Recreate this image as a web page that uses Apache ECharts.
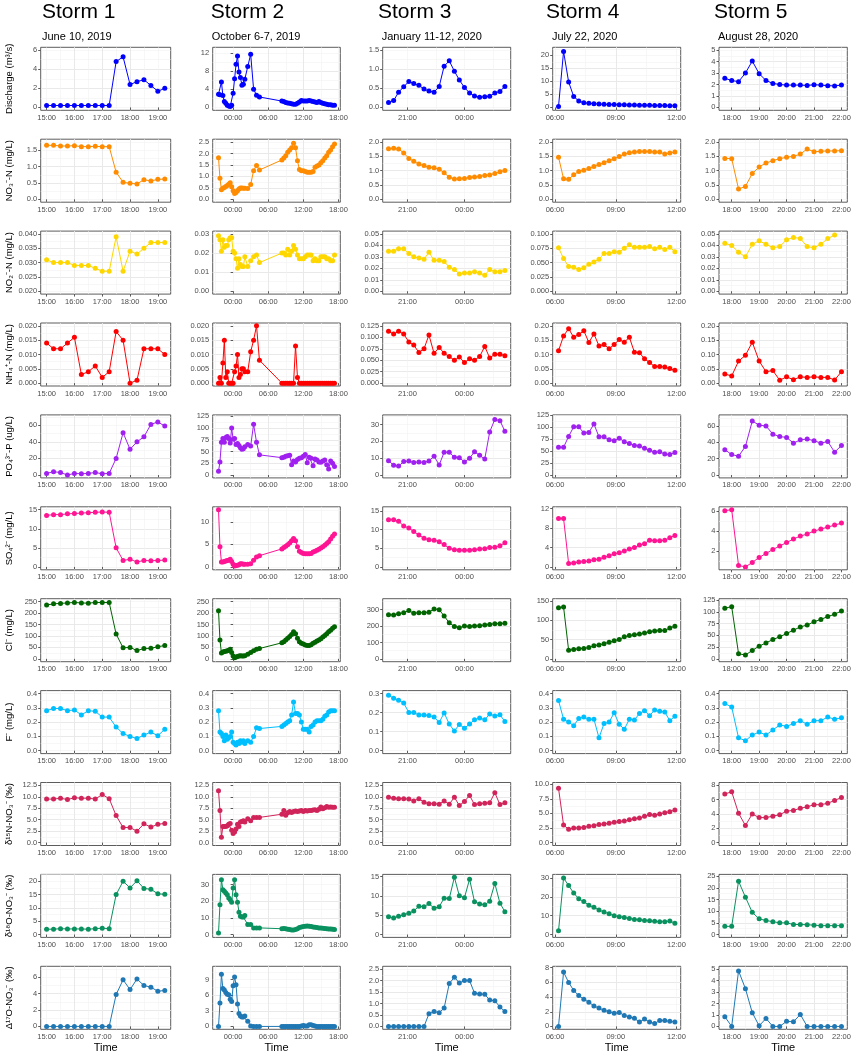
<!DOCTYPE html>
<html>
<head>
<meta charset="utf-8">
<script src="https://cdn.jsdelivr.net/npm/echarts@6/dist/echarts.min.js"></script>
<style>
html, body { margin: 0; padding: 0; background: #fff; }
#main { width: 858px; height: 1052px; }
</style>
</head>
<body>
<div id="main"></div>
<script>
// sampling times in hours of the day (storms 2 and 3 run past midnight)
var s1Time = [15, 15.25, 15.5, 15.75, 16, 16.25, 16.5, 16.75, 17, 17.25, 17.5, 17.75, 18, 18.25, 18.5, 18.75, 19, 19.25];
var s2Time = [-2.5, -2.25, -2, -1.75, -1.5, -1.25, -1, -0.75, -0.5, -0.25, 0, 0.25, 0.5, 0.75, 1, 1.25, 1.5, 1.75, 2, 2.5, 3, 3.5, 4, 4.5,
  8.33, 8.67, 9, 9.33, 9.67, 10, 10.33, 10.67, 11, 11.33, 11.67, 12, 12.33, 12.67, 13, 13.33, 13.67, 14, 14.33, 14.67, 15, 15.33, 15.67, 16, 16.33, 16.67, 17, 17.33];
var s3Time = [20, 20.27, 20.53, 20.8, 21.07, 21.33, 21.6, 21.87, 22.13, 22.4, 22.67, 22.93, 23.2, 23.47, 23.73, 24, 24.27, 24.53, 24.8, 25.07, 25.33, 25.6, 25.87, 26.13];
var s4Time = [6.17, 6.42, 6.67, 6.92, 7.17, 7.42, 7.67, 7.92, 8.17, 8.42, 8.67, 8.92, 9.17, 9.42, 9.67, 9.92, 10.17, 10.42, 10.67, 10.92, 11.17, 11.42, 11.67, 11.92];
var s5Time = [17.75, 18, 18.25, 18.5, 18.75, 19, 19.25, 19.5, 19.75, 20, 20.25, 20.5, 20.75, 21, 21.25, 21.5, 21.75, 22];

// storm 1 - June 10, 2019
var s1Discharge = [0.2, 0.2, 0.2, 0.2, 0.2, 0.2, 0.2, 0.2, 0.2, 0.2, 4.8, 5.3, 2.4, 2.7, 2.9, 2.3, 1.7, 2.0];
var s1NO3 = [1.65, 1.65, 1.63, 1.63, 1.64, 1.61, 1.61, 1.62, 1.61, 1.61, 0.83, 0.52, 0.49, 0.47, 0.6, 0.56, 0.61, 0.62];
var s1NO2 = [0.031, 0.030, 0.030, 0.030, 0.029, 0.029, 0.029, 0.028, 0.027, 0.027, 0.039, 0.027, 0.034, 0.033, 0.035, 0.037, 0.037, 0.037];
var s1NH4 = [0.014, 0.012, 0.012, 0.014, 0.016, 0.003, 0.004, 0.006, 0.002, 0.004, 0.018, 0.015, 0.000, 0.001, 0.012, 0.012, 0.012, 0.010];
var s1PO4 = [2, 4, 3, 0, 2, 1.5, 2, 3, 1.5, 2, 20, 51, 31, 40, 46, 61, 64, 59];
var s1SO4 = [13.5, 13.7, 13.7, 13.9, 14.0, 14.1, 14.2, 14.3, 14.4, 14.3, 5.0, 1.7, 2.0, 1.3, 1.7, 1.6, 1.7, 1.8];
var s1Cl = [235, 240, 242, 244, 246, 244, 243, 246, 246, 246, 108, 48, 50, 36, 45, 46, 53, 58];
var s1F = [0.28, 0.295, 0.295, 0.28, 0.285, 0.25, 0.28, 0.275, 0.235, 0.235, 0.165, 0.12, 0.10, 0.085, 0.11, 0.13, 0.105, 0.15];
var s1D15N = [9.5, 9.5, 9.7, 9.4, 9.8, 9.7, 9.7, 9.5, 10.5, 9.6, 5.9, 3.3, 3.3, 2.5, 4.1, 3.4, 4.0, 4.2];
var s1D18O = [2, 2, 2.2, 2.1, 2.1, 2.1, 2, 2.2, 2.4, 2.2, 15, 20, 17.5, 20.2, 17.3, 17, 15.3, 15.1];
var s1D17O = [0, 0, 0, 0, 0, 0, 0, 0, 0, 0, 3.9, 5.7, 4.5, 5.8, 5.0, 4.8, 4.3, 4.4];

// storm 2 - October 6-7, 2019
var s2Discharge = [2.9, 2.8, 5.6, 2.6, 1.3, 0.9, 0.5, 0.3, 0.2, 0.5, 3.1, 6.3, 9.5, 11.3, 7.8, 6.6, 4.9, 5.1, 6.2, 9.0, 11.7, 4.0, 2.7, 2.3,
  1.4, 1.3, 1.1, 1.0, 0.9, 0.8, 0.7, 0.7, 0.9, 1.2, 1.5, 1.4, 1.4, 1.4, 1.5, 1.4, 1.3, 1.2, 1.1, 1.3, 1.1, 0.9, 0.8, 0.7, 0.6, 0.6, 0.5, 0.5];
var s2NO3 = [1.82, 0.92, 0.42, 0.48, 0.52, 0.56, 0.6, 0.66, 0.72, 0.55, 0.38, 0.25, 0.3, 0.38, 0.45, 0.5, 0.5, 0.48, 0.48, 0.47, 0.65, 1.25, 1.48, 1.28,
  1.72, 1.8, 1.9, 2.05, 2.15, 2.25, 2.45, 2.25, 1.68, 1.3, 1.25, 1.25, 1.22, 1.18, 1.18, 1.18, 1.22, 1.4, 1.45, 1.5, 1.6, 1.68, 1.8, 1.9, 2.05, 2.15, 2.3, 2.42];
var s2NO2 = [0.029, 0.027, 0.021, 0.027, 0.023, 0.024, 0.024, 0.027, 0.028, 0.028, 0.021, 0.02, 0.017, 0.012, 0.017, 0.014, 0.013, 0.013, 0.018, 0.013, 0.016, 0.018, 0.019, 0.015,
  0.020, 0.020, 0.019, 0.022, 0.019, 0.021, 0.024, 0.022, 0.019, 0.017, 0.017, 0.017, 0.018, 0.019, 0.019, 0.019, 0.016, 0.017, 0.016, 0.016, 0.018, 0.018, 0.018, 0.017, 0.017, 0.016, 0.016, 0.019];
var s2NH4 = [0, 0.002, 0, 0.007, 0.015, 0.002, 0.004, 0, 0, 0, 0, 0.004, 0.006, 0.010, 0.002, 0.003, 0.005, 0.005, 0.004, 0.004, 0.011, 0.015, 0.020, 0.008,
  0, 0, 0, 0, 0, 0, 0, 0.013, 0.002, 0, 0, 0, 0, 0, 0, 0, 0, 0, 0, 0, 0, 0, 0, 0, 0, 0, 0, 0];
var s2PO4 = [8, 28, 70, 78, 70, 80, 82, 78, 68, 100, 76, 78, 65, 67, 63, 58, 55, 56, 60, 65, 62, 108, 70, 43,
  37, 38, 40, 41, 42, 22, 30, 28, 33, 36, 37, 40, 44, 26, 38, 36, 20, 34, 32, 28, 27, 30, 32, 22, 13, 30, 25, 18];
var s2SO4 = [12.7, 4.5, 1.1, 1.1, 1.2, 1.3, 1.4, 1.5, 1.7, 1.2, 0.6, 0.2, 0.3, 0.4, 0.5, 0.7, 0.7, 0.6, 0.6, 0.6, 0.7, 1.5, 2.2, 2.5,
  4.0, 4.3, 4.6, 4.9, 5.3, 5.8, 6.3, 5.8, 4.5, 3.5, 3.2, 3.0, 2.9, 2.9, 2.9, 3.0, 3.3, 3.5, 3.7, 3.9, 4.2, 4.5, 4.8, 5.2, 5.6, 6.2, 6.8, 7.3];
var s2Cl = [210, 82, 25, 30, 32, 33, 35, 38, 42, 28, 12, 5, 8, 10, 12, 13, 12, 12, 14, 20, 28, 35, 42, 45,
  70, 75, 82, 90, 98, 106, 118, 110, 90, 75, 68, 65, 60, 58, 58, 62, 68, 72, 78, 82, 88, 95, 102, 110, 118, 125, 133, 140];
var s2F = [0.28, 0.13, 0.12, 0.10, 0.07, 0.11, 0.08, 0.09, 0.10, 0.13, 0.06, 0.05, 0.04, 0.06, 0.05, 0.07, 0.06, 0.07, 0.05, 0.07, 0.06, 0.10, 0.16, 0.155,
  0.17, 0.18, 0.19, 0.20, 0.21, 0.25, 0.34, 0.26, 0.26, 0.25, 0.20, 0.15, 0.15, 0.15, 0.13, 0.17, 0.18, 0.20, 0.21, 0.21, 0.21, 0.22, 0.24, 0.25, 0.27, 0.28, 0.28, 0.28];
var s2D15N = [11.3, 7.0, 1.2, 3.5, 3.5, 3.5, 3.7, 4.0, 4.2, 2.7, 2.0, 2.3, 3.0, 4.0, 3.5, 4.5, 4.6, 4.8, 4.5, 5.2, 4.8, 5.5, 5.5, 5.5,
  6.2, 7.0, 6.0, 6.5, 6.8, 6.6, 6.8, 6.9, 6.8, 6.9, 7.0, 6.8, 7.0, 6.9, 7.0, 7.0, 7.1, 7.2, 7.0, 7.3, 7.8, 7.4, 7.6, 7.9, 7.7, 7.8, 7.7, 7.7];
var s2D18O = [1, 18, 33, 27, 26, 25, 24, 22, 21, 19.5, 28, 33, 24, 19.5, 13.5, 11, 10.5, 10.5, 11.5, 6, 6, 4, 4, 4,
  3.5, 3.6, 3.5, 3.2, 3.0, 2.8, 2.8, 3.0, 3.5, 4.2, 4.6, 4.9, 5.0, 5.1, 5.0, 4.8, 4.6, 4.4, 4.2, 4.0, 3.9, 3.8, 3.6, 3.5, 3.4, 3.3, 3.2, 3.1];
var s2D17O = [0, 4.5, 10, 7.3, 7.0, 6.5, 6.2, 6.1, 5.2, 4.8, 7.8, 9.5, 8.0, 4.3, 2.5, 2.0, 1.8, 1.8, 2.0, 1.0, 0.1, 0, 0, 0,
  0, 0, 0, 0, 0, 0, 0, 0, 0, 0, 0.1, 0.2, 0.1, 0.1, 0.3, 0.3, 0.2, 0.1, 0, 0, 0, 0, 0, 0, 0, 0, 0, 0];

// storm 3 - January 11-12, 2020
var s3Discharge = [0.13, 0.18, 0.4, 0.54, 0.68, 0.63, 0.58, 0.48, 0.43, 0.4, 0.55, 1.08, 1.22, 0.95, 0.72, 0.52, 0.38, 0.3, 0.27, 0.28, 0.29, 0.38, 0.42, 0.55];
var s3NO3 = [1.77, 1.78, 1.76, 1.62, 1.43, 1.33, 1.23, 1.18, 1.12, 1.1, 1.05, 0.93, 0.77, 0.71, 0.72, 0.73, 0.76, 0.78, 0.8, 0.83, 0.85, 0.9, 0.96, 1.01];
var s3NO2 = [0.035, 0.035, 0.037, 0.037, 0.033, 0.030, 0.029, 0.028, 0.034, 0.027, 0.027, 0.026, 0.021, 0.019, 0.015, 0.016, 0.016, 0.017, 0.016, 0.014, 0.019, 0.017, 0.017, 0.018];
var s3NH4 = [0.113, 0.107, 0.113, 0.107, 0.09, 0.083, 0.067, 0.075, 0.105, 0.065, 0.078, 0.065, 0.058, 0.05, 0.057, 0.045, 0.053, 0.05, 0.058, 0.08, 0.055, 0.063, 0.063, 0.06];
var s3PO4 = [8.5, 5.8, 5.3, 8, 8.3, 7.5, 7.7, 7.5, 8.4, 11.2, 6, 13.5, 13.6, 10.5, 10.3, 7.8, 10, 13.8, 11.7, 9.5, 25.6, 33, 32.3, 26];
var s3SO4 = [12.7, 12.7, 12.3, 11, 10.5, 9.5, 8.6, 7.7, 7.3, 7.2, 6.8, 6, 5, 4.6, 4.5, 4.5, 4.5, 4.6, 4.8, 4.9, 5.2, 5.3, 5.7, 6.5];
var s3Cl = [270, 268, 275, 282, 295, 278, 282, 282, 285, 305, 300, 262, 220, 198, 190, 200, 198, 200, 202, 207, 210, 215, 215, 218];
var s3F = [0.29, 0.275, 0.265, 0.25, 0.2, 0.2, 0.187, 0.187, 0.185, 0.177, 0.148, 0.198, 0.14, 0.103, 0.138, 0.118, 0.14, 0.162, 0.172, 0.162, 0.193, 0.182, 0.188, 0.153];
var s3D15N = [9.9, 9.7, 9.6, 9.6, 9.5, 9.1, 9.6, 8.8, 8.5, 8.5, 8.4, 9.1, 8.4, 9.9, 8.1, 9, 10.3, 8.3, 8.5, 8.6, 8.7, 10.9, 8.3, 8.7];
var s3D18O = [4.6, 4.3, 4.7, 5.1, 5.5, 6.1, 7.3, 7.2, 8, 6.8, 7.2, 9.4, 9.3, 14.8, 10, 9.5, 14.3, 8.5, 7.9, 7.7, 8.6, 13.2, 8.1, 5.9];
var s3D17O = [0, 0, 0, 0, 0, 0, 0, 0, 0.55, 0.65, 0.6, 0.8, 1.87, 2.15, 1.9, 2.0, 2.0, 1.45, 1.42, 1.4, 1.15, 1.12, 0.85, 0.65];

// storm 4 - July 22, 2020
var s4Discharge = [0.4, 21.5, 9.8, 4.2, 2.5, 1.8, 1.6, 1.4, 1.3, 1.2, 1.1, 1.1, 1.0, 1.0, 0.9, 0.9, 0.8, 0.8, 0.8, 0.7, 0.7, 0.7, 0.6, 0.6];
var s4NO3 = [1.47, 0.72, 0.70, 0.86, 0.97, 1.02, 1.08, 1.15, 1.22, 1.28, 1.35, 1.42, 1.5, 1.58, 1.63, 1.65, 1.67, 1.67, 1.67, 1.65, 1.65, 1.58, 1.62, 1.65];
var s4NO2 = [0.076, 0.057, 0.043, 0.042, 0.038, 0.041, 0.047, 0.051, 0.056, 0.066, 0.066, 0.069, 0.068, 0.075, 0.081, 0.077, 0.077, 0.077, 0.078, 0.074, 0.077, 0.073, 0.077, 0.069];
var s4NH4 = [0.113, 0.165, 0.19, 0.16, 0.17, 0.183, 0.142, 0.172, 0.13, 0.135, 0.12, 0.135, 0.152, 0.143, 0.16, 0.108, 0.106, 0.085, 0.072, 0.058, 0.058, 0.056, 0.051, 0.045];
var s4PO4 = [58, 58, 81, 101, 101, 88, 89, 107, 80, 80, 74, 72, 77, 70, 66, 62, 61, 56, 52, 48, 49, 44, 43, 47];
var s4SO4 = [10, 10, 0.7, 0.8, 1.0, 1.1, 1.2, 1.5, 1.6, 2.0, 2.3, 2.7, 2.9, 3.3, 3.7, 4.0, 4.5, 4.8, 5.5, 5.4, 5.4, 5.5, 6.0, 6.5];
var s4Cl = [132, 134, 22, 24, 26, 27, 29, 34, 36, 39, 43, 47, 50, 57, 60, 62, 64, 67, 70, 72, 73, 73, 80, 84];
var s4F = [0.35, 0.22, 0.2, 0.175, 0.225, 0.235, 0.22, 0.22, 0.09, 0.19, 0.2, 0.265, 0.185, 0.15, 0.22, 0.215, 0.26, 0.28, 0.245, 0.285, 0.275, 0.27, 0.21, 0.24];
var s4D15N = [9.3, 3.0, 2.3, 2.5, 2.5, 2.6, 2.8, 2.9, 3.1, 3.2, 3.3, 3.5, 3.6, 3.7, 3.9, 4.1, 4.2, 4.5, 4.8, 4.7, 4.9, 5.1, 5.3, 5.6];
var s4D18O = [2, 30, 26, 22, 19, 17.5, 15.5, 14.5, 13, 12, 11, 10, 9.5, 9, 8.5, 8, 7.8, 7.5, 7.3, 7, 6.8, 6.8, 7.2, 6];
var s4D17O = [0, 7.4, 6, 4.9, 4.2, 3.7, 3.3, 2.8, 2.5, 2.2, 2.0, 1.8, 1.9, 1.5, 1.3, 1.1, 0.6, 1.0, 0.6, 0.4, 0.8, 0.8, 0.7, 0.6];

// storm 5 - August 28, 2020 (no nitrite sample at 22:00)
var s5Discharge = [2.55, 2.35, 2.25, 3.0, 4.05, 2.95, 2.35, 2.1, 2.0, 1.95, 1.95, 1.95, 1.92, 1.98, 1.95, 1.9, 1.88, 1.95];
var s5NO3 = [1.43, 1.42, 0.36, 0.45, 0.9, 1.13, 1.27, 1.35, 1.42, 1.47, 1.5, 1.58, 1.76, 1.66, 1.68, 1.69, 1.69, 1.70];
var s5NO2 = [0.042, 0.040, 0.034, 0.030, 0.041, 0.044, 0.041, 0.038, 0.039, 0.045, 0.047, 0.046, 0.039, 0.038, 0.041, 0.046, 0.049];
var s5NH4 = [0.032, 0.025, 0.077, 0.097, 0.143, 0.077, 0.04, 0.044, 0.01, 0.022, 0.012, 0.022, 0.02, 0.022, 0.02, 0.02, 0.011, 0.04];
var s5PO4 = [31, 25, 23, 35, 66, 61, 60, 50, 47, 46, 39, 43, 44, 42, 39, 41, 28, 36];
var s5SO4 = [6.05, 6.15, 0.55, 0.4, 0.85, 1.35, 1.75, 2.15, 2.5, 2.85, 3.2, 3.5, 3.7, 4.0, 4.2, 4.4, 4.6, 4.8];
var s5Cl = [108, 111, 11, 8, 18, 27, 34, 41, 47, 54, 61, 68, 72, 79, 84, 90, 95, 102];
var s5F = [0.33, 0.305, 0.09, 0.07, 0.11, 0.13, 0.11, 0.145, 0.18, 0.17, 0.19, 0.21, 0.185, 0.21, 0.21, 0.235, 0.22, 0.23];
var s5D15N = [6.8, 7.1, 4.1, 2.4, 4.0, 3.5, 3.5, 3.7, 3.9, 4.4, 4.5, 4.8, 5.0, 5.3, 5.3, 5.5, 5.9, 6.3];
var s5D18O = [3.5, 3.5, 22.8, 16, 9.5, 6.7, 6.0, 5.5, 5.0, 5.0, 4.3, 4.3, 4.2, 4.0, 3.8, 3.8, 3.8, 3.8];
var s5D17O = [0.85, 0, 4.85, 3.3, 1.2, 0.05, 0.7, 0, 0, 0.45, 0.4, 1.05, 0, 0, 0, 0, 0, 0];

// y scale limits (before the 5% ggplot padding), tick steps and label decimals, per row
var s1YLim = [[0, 6], [0, 1.75], [0.02, 0.04], [0, 0.02], [0, 69], [0, 15], [0, 250], [0, 0.4], [0, 12.5], [0, 21.5], [0, 7]];
var s2YLim = [[0, 12.6], [0, 2.5], [0, 0.03], [0, 0.02], [0, 122], [0, 12.7], [0, 250], [0, 0.4], [0, 12.5], [0, 34.5], [0, 11]];
var s3YLim = [[0, 1.5], [0, 2], [0, 0.05], [0, 0.125], [0, 34], [0, 15.4], [0, 350], [0, 0.3], [0, 12.5], [0, 14.8], [0, 2.5]];
var s4YLim = [[0, 22], [0, 2], [0, 0.1], [0, 0.2], [0, 120], [0, 11.8], [0, 148], [0, 0.4], [0, 9.8], [0, 30.4], [0, 7.8]];
var s5YLim = [[0, 5], [0, 2], [0, 0.05], [0, 0.2], [0, 70], [0.4, 6.15], [0, 122], [0, 0.4], [0, 8], [0, 24.5], [0, 5]];
var s1YStep = [2, 0.5, 0.005, 0.005, 20, 5, 50, 0.1, 2.5, 5, 2];
var s2YStep = [4, 0.5, 0.01, 0.005, 25, 5, 50, 0.1, 2.5, 10, 3];
var s3YStep = [0.5, 0.5, 0.01, 0.025, 10, 5, 100, 0.1, 2.5, 5, 0.5];
var s4YStep = [5, 0.5, 0.025, 0.05, 25, 4, 50, 0.1, 2.5, 10, 2];
var s5YStep = [1, 0.5, 0.01, 0.05, 20, 2, 25, 0.1, 2, 5, 1];
var s1YDec = [0, 1, 3, 3, 0, 0, 0, 1, 1, 0, 0];
var s2YDec = [0, 1, 2, 3, 0, 0, 0, 1, 1, 0, 0];
var s3YDec = [1, 1, 2, 3, 0, 0, 0, 1, 1, 0, 1];
var s4YDec = [0, 1, 3, 2, 0, 0, 0, 1, 1, 0, 0];
var s5YDec = [0, 1, 2, 2, 0, 0, 0, 1, 0, 0, 0];

var varNames = ['Discharge (m³/s)', 'NO₃⁻-N (mg/L)', 'NO₂⁻-N (mg/L)', 'NH₄⁺-N (mg/L)', 'PO₄³⁻-P (ug/L)', 'SO₄²⁻ (mg/L)',
  'Cl⁻ (mg/L)', 'F⁻ (mg/L)', 'δ¹⁵N-NO₃⁻ (‰)', 'δ¹⁸O-NO₃⁻ (‰)', 'Δ¹⁷O-NO₃⁻ (‰)'];
var varColors = ['#0000ff', '#ff8c00', '#ffd700', '#ff0000', '#a020f0', '#ff1493', '#006400', '#00bfff', '#d0245a', '#0a9160', '#1f78b4'];

var storms = [
  { name: 'Storm 1', date: 'June 10, 2019', time: s1Time, xStep: 1, yLim: s1YLim, yStep: s1YStep, yDec: s1YDec,
    values: [s1Discharge, s1NO3, s1NO2, s1NH4, s1PO4, s1SO4, s1Cl, s1F, s1D15N, s1D18O, s1D17O] },
  { name: 'Storm 2', date: 'October 6-7, 2019', time: s2Time, xStep: 6, yLim: s2YLim, yStep: s2YStep, yDec: s2YDec,
    values: [s2Discharge, s2NO3, s2NO2, s2NH4, s2PO4, s2SO4, s2Cl, s2F, s2D15N, s2D18O, s2D17O] },
  { name: 'Storm 3', date: 'January 11-12, 2020', time: s3Time, xStep: 3, yLim: s3YLim, yStep: s3YStep, yDec: s3YDec,
    values: [s3Discharge, s3NO3, s3NO2, s3NH4, s3PO4, s3SO4, s3Cl, s3F, s3D15N, s3D18O, s3D17O] },
  { name: 'Storm 4', date: 'July 22, 2020', time: s4Time, xStep: 3, yLim: s4YLim, yStep: s4YStep, yDec: s4YDec,
    values: [s4Discharge, s4NO3, s4NO2, s4NH4, s4PO4, s4SO4, s4Cl, s4F, s4D15N, s4D18O, s4D17O] },
  { name: 'Storm 5', date: 'August 28, 2020', time: s5Time, xStep: 1, yLim: s5YLim, yStep: s5YStep, yDec: s5YDec,
    values: [s5Discharge, s5NO3, s5NO2, s5NH4, s5PO4, s5SO4, s5Cl, s5F, s5D15N, s5D18O, s5D17O] }
];

// panel layout
var colLeft = [40.7, 212.7, 382.7, 552.7, 719];
var colRight = [170.7, 340.3, 510.7, 680.7, 847.3];
var titleX = [42, 210.7, 378, 546, 714];
var dateX = [42, 211.7, 381.7, 552, 718];
var rowTop = 47.3, rowPitch = 91.9, panelH = 63;
var FONT = '"Liberation Sans", Arial, sans-serif';
var AXIS_TEXT = '#4d4d4d';

function expand(lo, hi) {
  var d = (hi - lo) * 0.05;
  return [lo - d, hi + d];
}
function majors(lo, hi, step) {
  var out = [];
  for (var k = Math.ceil(lo / step - 1e-9); k * step <= hi + 1e-9; k++) out.push(+(k * step).toFixed(6));
  return out;
}
function onStep(v, step) {
  return Math.abs(v / step - Math.round(v / step)) < 1e-6;
}
function clock(v) {
  var h = ((Math.round(v) % 24) + 24) % 24;
  return (h < 10 ? '0' : '') + h + ':00';
}

var grids = [], xAxes = [], yAxes = [], series = [], graphics = [];

storms.forEach(function (s, c) {
  var tx = expand(Math.min.apply(null, s.time), Math.max.apply(null, s.time));
  var xt = majors(tx[0], tx[1], s.xStep);

  graphics.push({ type: 'text', left: titleX[c], top: 2, style: { text: s.name, fontSize: 21, fontFamily: FONT, fill: '#000' } });
  graphics.push({ type: 'text', left: dateX[c], top: 31, style: { text: s.date, fontSize: 11, fontFamily: FONT, fill: '#000' } });

  for (var r = 0; r < 11; r++) {
    var g = grids.length;
    var ty = expand(s.yLim[r][0], s.yLim[r][1]);
    var ystep = s.yStep[r], dec = s.yDec[r], xstep = s.xStep;
    var yt = majors(ty[0], ty[1], ystep);

    grids.push({
      left: colLeft[c], top: rowTop + r * rowPitch, width: colRight[c] - colLeft[c], height: panelH,
      show: true, borderColor: '#333', borderWidth: 0.8, backgroundColor: '#fff', outerBoundsMode: 'none'
    });

    // minor grid lines
    xAxes.push({
      type: 'value', gridIndex: g, position: 'top', min: tx[0], max: tx[1],
      minInterval: xstep / 2, maxInterval: xstep / 2,
      axisLine: { show: false }, axisTick: { show: false }, axisLabel: { show: false },
      splitLine: { show: true, showMinLine: false, showMaxLine: false, lineStyle: { color: '#f1f1f1', width: 0.6 } }
    });
    // major grid, ticks and labels
    xAxes.push({
      type: 'value', gridIndex: g, position: 'bottom', min: tx[0], max: tx[1],
      minInterval: xstep, maxInterval: xstep,
      axisLine: { show: false },
      axisTick: { show: true, customValues: xt, length: 2.5, lineStyle: { color: '#333', width: 0.8 } },
      axisLabel: {
        customValues: xt, margin: 3.5, fontSize: 7.5, color: AXIS_TEXT, fontFamily: FONT,
        formatter: (function (st) { return function (v) { return onStep(v, st) ? clock(v) : ''; }; })(xstep)
      },
      splitLine: { show: true, showMinLine: false, showMaxLine: false, lineStyle: { color: '#e6e6e6', width: 0.9 } },
      name: r === 10 ? 'Time' : '', nameLocation: 'middle', nameGap: 13,
      nameTextStyle: { fontSize: 11, color: '#000', fontFamily: FONT }
    });

    yAxes.push({
      type: 'value', gridIndex: g, position: 'right', min: ty[0], max: ty[1],
      minInterval: ystep / 2, maxInterval: ystep / 2,
      axisLine: { show: false }, axisTick: { show: false }, axisLabel: { show: false },
      splitLine: { show: true, showMinLine: false, showMaxLine: false, lineStyle: { color: '#f1f1f1', width: 0.6 } }
    });
    yAxes.push({
      type: 'value', gridIndex: g, position: 'left', min: ty[0], max: ty[1],
      minInterval: ystep, maxInterval: ystep,
      axisLine: { show: false },
      axisTick: { show: true, customValues: yt, length: 2.5, lineStyle: { color: '#333', width: 0.8 } },
      axisLabel: {
        customValues: yt, margin: 3.5, fontSize: 7.5, color: AXIS_TEXT, fontFamily: FONT,
        formatter: (function (st, d) { return function (v) { return onStep(v, st) ? v.toFixed(d) : ''; }; })(ystep, dec)
      },
      splitLine: { show: true, showMinLine: false, showMaxLine: false, lineStyle: { color: '#e6e6e6', width: 0.9 } },
      name: c === 0 ? varNames[r] : '', nameLocation: 'middle', nameRotate: 90, nameGap: 26,
      nameTextStyle: { fontSize: 9.5, color: '#000', fontFamily: FONT }
    });

    var vals = s.values[r], pts = [];
    for (var i = 0; i < vals.length; i++) pts.push([s.time[i], vals[i]]);

    series.push({
      type: 'line', xAxisIndex: 2 * g + 1, yAxisIndex: 2 * g + 1, data: pts,
      symbol: 'circle', symbolSize: 5, showSymbol: true, clip: false,
      lineStyle: { color: varColors[r], width: 1 },
      itemStyle: { color: varColors[r] },
      emphasis: { disabled: true }
    });
  }
});

var chart = echarts.init(document.getElementById('main'));
chart.setOption({
  animation: false,
  backgroundColor: '#fff',
  textStyle: { fontFamily: FONT },
  grid: grids,
  xAxis: xAxes,
  yAxis: yAxes,
  series: series,
  graphic: graphics
});
</script>
</body>
</html>
